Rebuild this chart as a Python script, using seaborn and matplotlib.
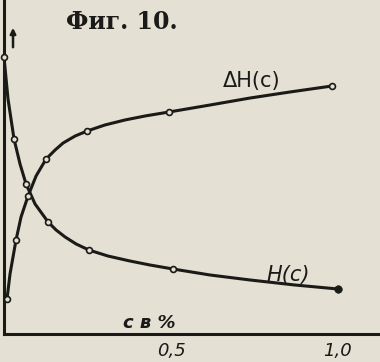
import matplotlib
matplotlib.use("Agg")
import matplotlib.pyplot as plt
import seaborn as sns
import pandas as pd

# ---- data (arbitrary y units) ----
h_curve_x = [0.0, 0.012, 0.030, 0.048, 0.066, 0.093, 0.132, 0.156, 0.183, 0.216, 0.254, 0.311,
             0.377, 0.437, 0.506, 0.617, 0.737, 0.871, 1.0]
h_curve_y = [27.7, 23.5, 19.5, 17.0, 15.0, 13.0, 11.2, 10.4, 9.7, 9.0, 8.4, 7.8,
             7.3, 6.9, 6.5, 5.9, 5.4, 4.9, 4.5]
h_pts_x = [0.0, 0.030, 0.066, 0.132, 0.254, 0.506, 1.0]
h_pts_y = [27.7, 19.5, 15.0, 11.2, 8.4, 6.5, 4.5]

dh_curve_x = [0.009, 0.018, 0.036, 0.051, 0.072, 0.096, 0.126, 0.153, 0.177, 0.213, 0.249, 0.302,
              0.362, 0.422, 0.494, 0.617, 0.737, 0.856, 0.982]
dh_curve_y = [3.5, 6.0, 9.4, 11.7, 13.8, 15.8, 17.5, 18.4, 19.1, 19.8, 20.3, 20.9,
              21.4, 21.8, 22.2, 22.9, 23.6, 24.2, 24.8]
dh_pts_x = [0.009, 0.036, 0.072, 0.126, 0.249, 0.494, 0.982]
dh_pts_y = [3.5, 9.4, 13.8, 17.5, 20.3, 22.2, 24.8]

xtick_vals = [0.5, 1.0]
xtick_labels = ["0,5", "1,0"]
title = "Фиг. 10."
label_h = "H(c)"
label_dh = "ΔH(c)"
label_x = "c в %"

paper = "#e4e0d3"
ink = "#1a1a18"

sns.set_theme(style="white")
plt.rcParams["font.family"] = ["DejaVu Sans"]
plt.rcParams["lines.solid_joinstyle"] = "round"

fig = plt.figure(figsize=(3.8, 3.62), dpi=100, facecolor=paper)
ax = fig.add_axes([4 / 380, 28 / 362, 376 / 380, 334 / 362])
ax.set_facecolor(paper)

sns.lineplot(x=h_curve_x, y=h_curve_y, sort=False, estimator=None, color=ink, lw=2.2, ax=ax)
sns.lineplot(x=dh_curve_x, y=dh_curve_y, sort=False, estimator=None, color=ink, lw=2.2, ax=ax)

pts = pd.DataFrame({"x": h_pts_x[:-1] + dh_pts_x, "y": h_pts_y[:-1] + dh_pts_y})
sns.scatterplot(data=pts, x="x", y="y", s=18, facecolor=paper, edgecolor=ink, linewidth=1.2,
                ax=ax, zorder=5, clip_on=False)
sns.scatterplot(x=[h_pts_x[-1]], y=[h_pts_y[-1]], s=30, color=ink, edgecolor=ink, ax=ax, zorder=6)

ax.set_xlim(0, 376 / 334)
ax.set_ylim(0, 33.4)
for s in ["top", "right"]:
    ax.spines[s].set_visible(False)
for s in ["left", "bottom"]:
    ax.spines[s].set_color(ink)
    ax.spines[s].set_linewidth(2.2)

ax.set_xticks(xtick_vals)
ax.set_xticklabels(xtick_labels, fontsize=13, style="italic", color=ink)
ax.tick_params(axis="x", length=0, pad=6)
ax.set_yticks([])
ax.set_xlabel("")
ax.set_ylabel("")

# small arrow beside the y axis
ax.annotate("", xy=(0.027, 30.9), xytext=(0.027, 28.4),
            arrowprops=dict(arrowstyle="-|>", color=ink, lw=1.8, mutation_scale=8))

fig.text(122 / 380, 1 - 22 / 362, title, ha="center", va="center",
         fontsize=17, family=["DejaVu Serif"], fontweight="bold", color=ink)
fig.text(252 / 380, 1 - 81 / 362, label_dh, ha="center", va="center",
         fontsize=15, color=ink)
fig.text(288 / 380, 1 - 275 / 362, label_h, ha="center", va="center",
         fontsize=15, style="italic", color=ink)
fig.text(149 / 380, 1 - 323 / 362, label_x, ha="center", va="center",
         fontsize=13, style="italic", fontweight="bold", color=ink)

fig.savefig("out.png", dpi=100, facecolor=paper)
